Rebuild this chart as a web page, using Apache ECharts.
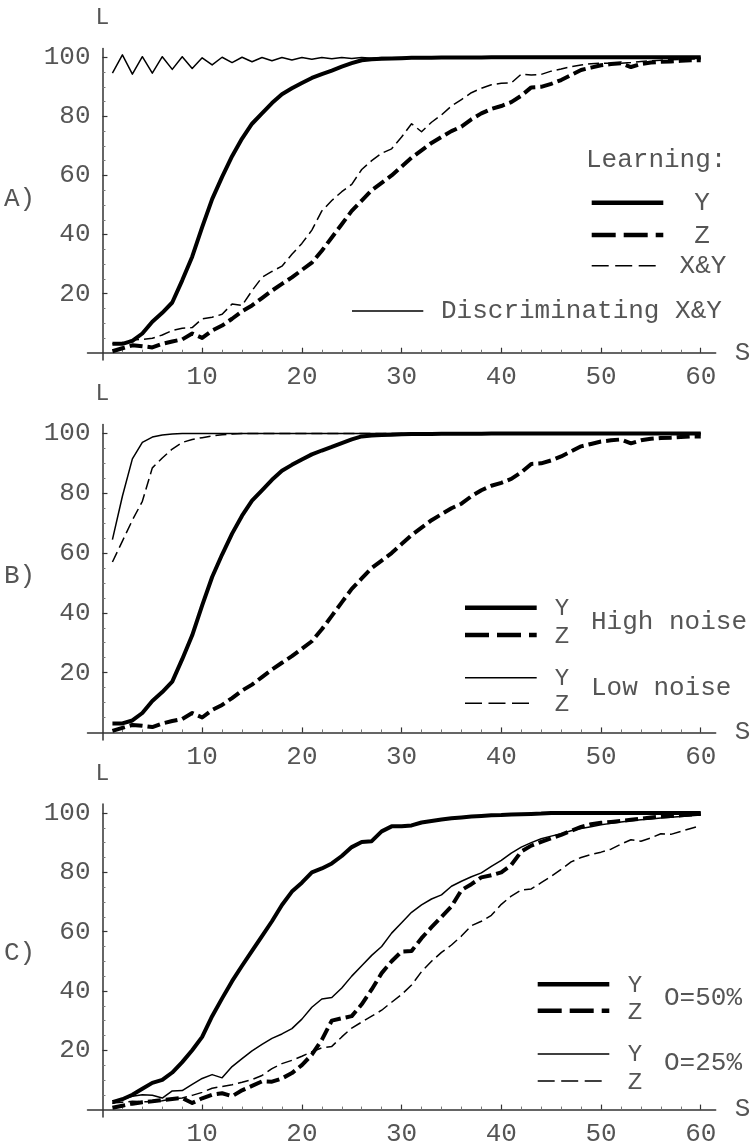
<!DOCTYPE html>
<html><head><meta charset="utf-8">
<script src="https://cdn.jsdelivr.net/npm/echarts@6/dist/echarts.min.js"></script>
<style>html,body{margin:0;padding:0;background:#fff}#c{width:753px;height:1147px}</style>
</head><body><div id="c"></div>
<script>
// ---- data ----
const steps = [1,2,3,4,5,6,7,8,9,10,11,12,13,14,15,16,17,18,19,20,21,22,23,24,25,26,27,28,29,30,
  31,32,33,34,35,36,37,38,39,40,41,42,43,44,45,46,47,48,49,50,51,52,53,54,55,56,57,58,59,60];

// Panel A & B, high noise
const yHigh = [3,3,4,6.5,10.5,13.5,17,24.5,32.5,42.5,
  52,59.5,66.5,72.5,77.5,81,84.5,87.5,89.5,91.3,
  93,94.3,95.5,96.8,98,99,99.3,99.5,99.6,99.7,
  99.8,99.8,99.8,99.9,99.9,99.9,99.9,99.9,100,100,
  100,100,100,100,100,100,100,100,100,100,
  100,100,100,100,100,100,100,100,100,100];
const zHigh = [0.5,1.5,2.5,2.2,1.8,3,3.8,4.5,6.5,5,
  7.5,9.2,11.5,14,16,18.5,21,23.3,25.5,28,
  30.5,34.5,39,43.5,48,51.5,55,57.5,60,63,
  66,68.5,71,73,75,76.5,79,81,82.5,83.5,
  84.8,87,89.8,90,91,92.3,94,95.7,96.5,97.3,
  97.7,98,96.7,97.7,98.2,98.5,98.6,98.8,99,99];
// Panel A
const xyLearn = [3,3.5,4.3,4.5,4.9,6,7.5,8.3,8.5,11.5,
  12,13,16.5,16,21,25.5,27.5,29.3,33.3,37,
  41.5,48,51.5,54.5,57,62,65,67.5,69,73,
  77.5,74.8,78,80.5,83.5,85.7,88,89.5,90.7,91.2,
  91.3,94.3,94,94.2,95.3,96,96.8,97.4,97.8,98,
  98,98,98.2,98.6,98.8,99,99.2,99.3,99.4,99.5];
const xyDiscr = [94.6,100.8,94.3,100.2,94.6,100.2,95.9,100.2,96.2,99.8,
  97.4,100,98.2,100,98.5,99.9,98.8,99.9,99.1,99.9,
  99.3,99.9,99.5,99.9,99.6,99.9,99.7,99.9,99.8,99.9,
  99.9,99.9,99.9,99.9,99.9,99.9,99.9,99.9,99.9,99.9,
  99.9,99.9,99.9,99.9,99.9,99.9,99.9,99.9,99.9,99.9,
  99.9,99.9,99.9,99.9,99.9,99.9,99.9,99.9,99.9,99.9];
// Panel B, low noise
const yLow = [64.5,79,91.5,97,98.8,99.5,99.8,100,100,100,
  100,100,100,100,100,100,100,100,100,100,
  100,100,100,100,100,100,100,100,100,100,
  100,100,100,100,100,100,100,100,100,100,
  100,100,100,100,100,100,100,100,100,100,
  100,100,100,100,100,100,100,100,100,100];
const zLow = [57,64,71,77.3,88.5,91.8,94.8,97,98,98.6,
  99.2,99.6,99.8,100,100,100,100,100,100,100,
  100,100,100,100,100,100,100,100,100,100,
  100,100,100,100,100,100,100,100,100,100,
  100,100,100,100,100,100,100,100,100,100,
  100,100,100,100,100,100,100,100,100,100];
// Panel C
const y50 = [2.5,3.5,5,7,9,10,12.5,16,20,24.5,
  31.5,37.5,43.3,48.5,53.5,58.5,63.5,69,73.5,76.5,
  80,81.3,83,85.5,88.5,90.2,90.5,93.8,95.5,95.5,
  95.8,96.8,97.3,97.8,98.2,98.5,98.8,99,99.2,99.3,
  99.5,99.6,99.7,99.8,100,100,100,100,100,100,
  100,100,100,100,100,100,100,100,100,100];
const z50 = [0.6,1.3,2,2.5,2.8,3.2,3.6,3.9,2.2,3.8,
  5,5.5,4.5,6.5,8,9.5,9.4,10.5,12.3,15,
  18.5,23.5,30,30.8,31.5,35.5,40.5,46,50,53.3,
  53.5,57.8,61.5,65,68.5,74,76,78.3,79,80,
  82.5,87,89,90.3,91.5,92.6,94,95.3,96.2,96.7,
  97,97.3,97.7,98.1,98.5,98.8,99,99.2,99.5,99.7];
const y25 = [2,3.5,4.5,5,4.8,3.9,6.3,6.4,8.5,10.5,
  11.8,10.7,14.5,17.2,19.8,22,24,25.5,27.3,30.5,
  34.5,37.3,37.8,41,45,48.5,52,55,59.5,63,
  66.5,69,71,72.4,75.3,77,78.5,79.8,82,84,
  86.5,88.5,90,91.3,92.2,93,94,94.8,95.4,96,
  96.5,97,97.4,97.7,98,98.3,98.6,98.8,99.1,99.3];
const z25 = [2.2,2.5,2.8,2.7,2.6,3,3.6,3.9,4.8,5.8,
  7.2,7.8,8.4,9.2,10.1,11.5,13.8,15.5,16.6,18,
  19.5,20.8,21.3,24.5,27.5,29.5,31.5,33.5,36.2,38.8,
  42,46.5,50,53,55.5,58.5,62,63.5,65.5,69.2,
  72,74,74.4,76.5,78.6,81,83.5,85,86,86.8,
  87.8,89.5,91,90.5,91.6,93,92.8,93.8,94.8,95.7];

// tick labels
const xMajor = [10,20,30,40,50,60];
const xMinor = [2,4,6,8,12,14,16,18,22,24,26,28,32,34,36,38,42,44,46,48,52,54,56,58];
const yMajor = [20,40,60,80,100];
const yMinor = [5,10,15,25,30,35,45,50,55,65,70,75,85,90,95];

// ---- chart ----
const FONT = 'Liberation Mono';
const TXT = '#555';
const AX = '#333';
const panels = [
  {top: 48.4, height: 311.7},
  {top: 424.5, height: 315.4},
  {top: 804.1, height: 313.3}
];
const grid = [], xAxis = [], yAxis = [];
panels.forEach((p, i) => {
  grid.push({left: 87.5, right: 37.3, top: p.top, height: p.height});
  xAxis.push({
    type: 'value', gridIndex: i, min: -1.5, max: 61.5,
    name: 'S', nameLocation: 'end', nameGap: 19,
    nameTextStyle: {fontFamily: FONT, fontSize: 26, color: TXT},
    axisLine: {onZero: true, lineStyle: {color: AX, width: 1.5}},
    axisTick: {show: true, inside: true, length: 5, customValues: xMajor, lineStyle: {color: AX, width: 1.2}},
    axisLabel: {customValues: xMajor, margin: 4, fontFamily: FONT, fontSize: 26, color: TXT},
    splitLine: {show: false}
  });
  xAxis.push({
    type: 'value', gridIndex: i, min: -1.5, max: 61.5,
    axisLine: {show: false, onZero: true, onZeroAxisIndex: 2 * i},
    axisTick: {show: true, inside: false, length: 3, customValues: xMinor, lineStyle: {color: '#777', width: 1}},
    axisLabel: {show: false}, splitLine: {show: false}
  });
  yAxis.push({
    type: 'value', gridIndex: i, min: -2.5, max: 103,
    name: 'L', nameLocation: 'end', nameGap: 19,
    nameTextStyle: {fontFamily: FONT, fontSize: 23, color: TXT},
    axisLine: {onZero: true, lineStyle: {color: AX, width: 1.5}},
    axisTick: {show: true, inside: true, length: 5, customValues: yMajor, lineStyle: {color: AX, width: 1.2}},
    axisLabel: {customValues: yMajor, margin: -3, fontFamily: FONT, fontSize: 26, color: TXT},
    splitLine: {show: false}
  });
  yAxis.push({
    type: 'value', gridIndex: i, min: -2.5, max: 103,
    axisLine: {show: false, onZero: true, onZeroAxisIndex: 2 * i},
    axisTick: {show: true, inside: false, length: 3, customValues: yMinor, lineStyle: {color: '#777', width: 1}},
    axisLabel: {show: false}, splitLine: {show: false}
  });
});

const THICK = 4, THIN = 1.5;
const DASH_THICK = [13, 5], DASH_THIN = [11, 5];
function ser(name, vals, panel, width, dash) {
  return {
    type: 'line', name, xAxisIndex: 2 * panel, yAxisIndex: 2 * panel,
    data: steps.map((s, k) => [s, vals[k]]),
    symbol: 'none', showSymbol: false, silent: true, animation: false,
    lineStyle: {color: '#000', width, type: dash || 'solid', cap: 'butt', join: 'round'}
  };
}
const series = [
  ser('Discriminating X&Y', xyDiscr, 0, THIN),
  ser('X&Y', xyLearn, 0, THIN, DASH_THIN),
  ser('Z', zHigh, 0, THICK, DASH_THICK),
  ser('Y', yHigh, 0, THICK),
  ser('Y low', yLow, 1, THIN),
  ser('Z low', zLow, 1, THIN, DASH_THIN),
  ser('Z high', zHigh, 1, THICK, DASH_THICK),
  ser('Y high', yHigh, 1, THICK),
  ser('Z 25', z25, 2, THIN, DASH_THIN),
  ser('Y 25', y25, 2, THIN),
  ser('Z 50', z50, 2, THICK, DASH_THICK),
  ser('Y 50', y50, 2, THICK)
];

// legend / annotation graphics
function txt(t, x, y, align, size) {
  return {type: 'text', x, y, silent: true,
    style: {text: t, fill: TXT, font: (size || 26) + 'px "' + FONT + '"', align: align || 'left', verticalAlign: 'middle'}};
}
function seg(x1, x2, y, w, dash) {
  return {type: 'line', silent: true, shape: {x1, y1: y, x2, y2: y},
    style: {stroke: '#000', lineWidth: w, lineDash: dash || null, lineCap: 'butt'}};
}
const LD_THICK = [24, 8], LD_THIN = [17, 6.5];
const SM = 24;
const graphic = [
  txt('A)', 4, 199), txt('B)', 4, 576), txt('C)', 4, 953),
  // A legend
  txt('Learning:', 586, 160),
  seg(591.7, 663.3, 202.7, 4.5), txt('Y', 702, 203, 'center'),
  seg(591.7, 663.3, 235, 4.5, LD_THICK), txt('Z', 702, 236, 'center'),
  seg(591.7, 657, 265.7, 1.5, LD_THIN), txt('X&Y', 703, 266, 'center'),
  seg(352, 423.3, 311, 1.5), txt('Discriminating X&Y', 441, 311),
  // B legend
  seg(465, 536.7, 607.7, 4.5), txt('Y', 562, 609, 'center', SM),
  seg(465, 536.7, 635, 4.5, LD_THICK), txt('Z', 562, 637, 'center', SM),
  txt('High noise', 591, 622),
  seg(465, 536.7, 677.7, 1.5), txt('Y', 562, 679, 'center', SM),
  seg(465, 532, 703.3, 1.5, LD_THIN), txt('Z', 562, 705, 'center', SM),
  txt('Low noise', 591, 688),
  // C legend
  seg(537.7, 609.3, 984.3, 4.5), txt('Y', 635, 986, 'center', SM),
  seg(537.7, 609.3, 1010.7, 4.5, LD_THICK), txt('Z', 635, 1013, 'center', SM),
  txt('O=50%', 664, 998),
  seg(537.7, 609.3, 1054, 1.5), txt('Y', 635, 1055, 'center', SM),
  seg(537.7, 605, 1081, 1.5, LD_THIN), txt('Z', 635, 1083, 'center', SM),
  txt('O=25%', 664, 1063)
];

const chart = echarts.init(document.getElementById('c'), null, {renderer: 'canvas'});
chart.setOption({
  animation: false,
  backgroundColor: '#fff',
  grid, xAxis, yAxis, series, graphic
});
</script>
</body></html>
